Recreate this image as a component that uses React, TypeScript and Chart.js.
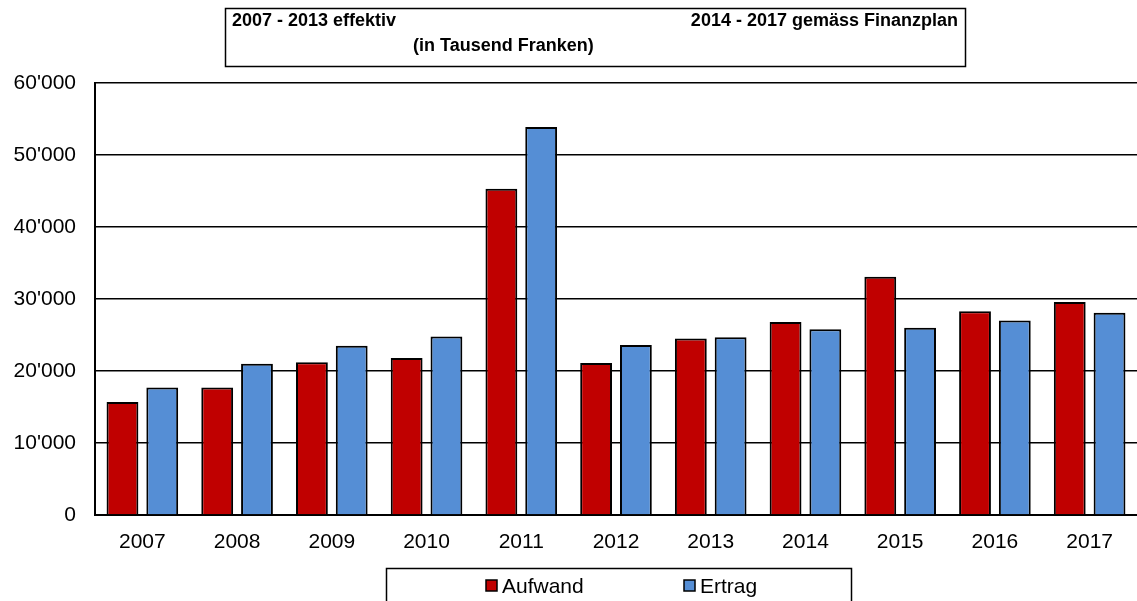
import React, { useEffect, useRef } from "react";
import { Chart, registerables } from "chart.js";

Chart.register(...registerables);

const categories = ["2007", "2008", "2009", "2010", "2011", "2012", "2013", "2014", "2015", "2016", "2017"];
const aufwand = [15700, 17700, 21200, 21800, 45300, 21100, 24500, 26800, 33100, 28300, 29600];
const ertrag = [17700, 21000, 23500, 24800, 53900, 23600, 24700, 25800, 26000, 27000, 28100];
const seriesLabels = ["Aufwand", "Ertrag"];
const seriesColors = ["#C00000", "#558ED5"];
const titleLeft = "2007 - 2013 effektiv";
const titleRight = "2014 - 2017 gemäss Finanzplan";
const titleSub = "(in Tausend Franken)";

const FONT = 'Arial, "Liberation Sans", sans-serif';

const fmt = (v: number) => String(v).replace(/\B(?=(\d{3})+(?!\d))/g, "'");

const boxesPlugin = {
  id: "boxes",
  afterDraw(chart: any) {
    const ctx = chart.ctx as CanvasRenderingContext2D;
    ctx.save();
    // title box
    ctx.strokeStyle = "#000";
    ctx.lineWidth = 1.5;
    ctx.strokeRect(225.5, 8.5, 740, 58);
    ctx.fillStyle = "#000";
    ctx.font = "bold 18px " + FONT;
    ctx.textBaseline = "middle";
    ctx.textAlign = "left";
    ctx.fillText(titleLeft, 232, 21);
    ctx.textAlign = "right";
    ctx.fillText(titleRight, 958, 21);
    ctx.textAlign = "left";
    ctx.fillText(titleSub, 413, 46);
    // legend box
    ctx.strokeRect(386.5, 568.5, 465, 60);
    const xs = [486, 684];
    ctx.font = "21px " + FONT;
    chart.data.datasets.forEach((ds: any, i: number) => {
      const x = xs[i];
      ctx.fillStyle = ds.backgroundColor;
      ctx.fillRect(x, 580, 11, 11);
      ctx.lineWidth = 1.5;
      ctx.strokeStyle = "#000";
      ctx.strokeRect(x, 580, 11, 11);
      ctx.fillStyle = "#000";
      ctx.textAlign = "left";
      ctx.fillText(ds.label, x + 16, 587);
    });
    ctx.restore();
  },
};

export default function App() {
  const ref = useRef<HTMLCanvasElement | null>(null);
  useEffect(() => {
    document.body.style.margin = "0";
    const chart = new Chart(ref.current as HTMLCanvasElement, {
      type: "bar",
      data: {
        labels: categories,
        datasets: [
          {
            label: seriesLabels[0],
            data: aufwand,
            backgroundColor: seriesColors[0],
            borderColor: "#000",
            borderWidth: 2,
            categoryPercentage: 0.84,
            barPercentage: 0.8,
          },
          {
            label: seriesLabels[1],
            data: ertrag,
            backgroundColor: seriesColors[1],
            borderColor: "#000",
            borderWidth: 2,
            categoryPercentage: 0.84,
            barPercentage: 0.8,
          },
        ],
      },
      options: {
        animation: false,
        responsive: true,
        maintainAspectRatio: false,
        layout: { padding: { left: 0, right: 0, top: 83, bottom: 46 } },
        plugins: {
          legend: { display: false },
          title: { display: false },
          tooltip: { enabled: false },
        },
        scales: {
          x: {
            grid: { display: false, drawTicks: false },
            border: { display: true, color: "#000", width: 2 },
            ticks: { color: "#000", font: { family: FONT, size: 21 }, padding: 15 },
            afterFit: (s: any) => {
              s.height = 40;
            },
          },
          y: {
            min: 0,
            max: 60000,
            grid: { color: "#000", lineWidth: 1.4, drawTicks: false },
            border: { display: true, color: "#000", width: 2 },
            ticks: {
              stepSize: 10000,
              color: "#000",
              font: { family: FONT, size: 21 },
              padding: 19,
              callback: (v: any) => fmt(Number(v)),
            },
            afterFit: (s: any) => {
              s.width = 95;
            },
          },
        },
      },
      plugins: [boxesPlugin],
    });
    return () => chart.destroy();
  }, []);
  return (
    <div style={{ position: "absolute", left: 0, top: 0, width: 1137, height: 601 }}>
      <canvas ref={ref} />
    </div>
  );
}
